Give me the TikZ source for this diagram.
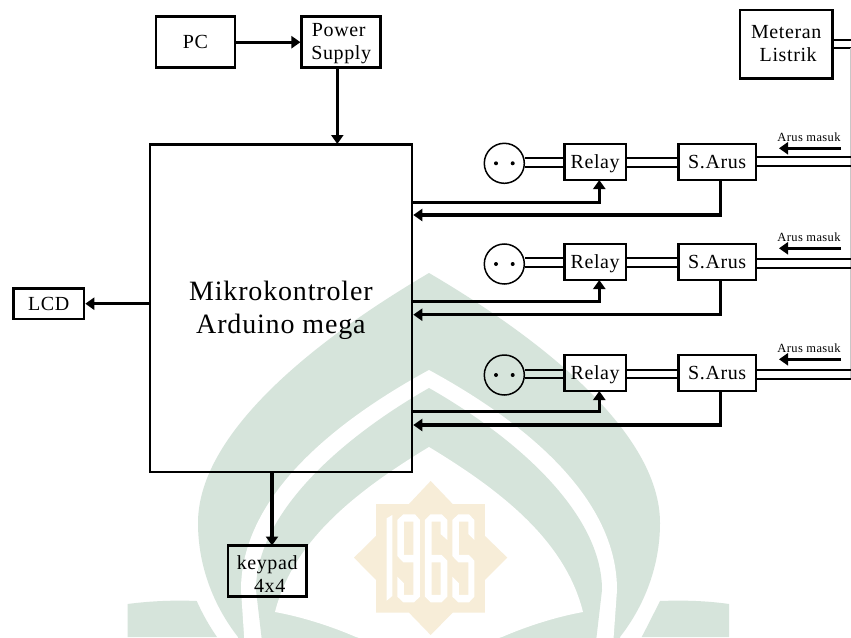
\documentclass[tikz,border=0pt]{standalone}
\usepackage{fontspec}
\setmainfont[LetterSpace=3]{Liberation Serif}
\newfontfamily\bigspaced[LetterSpace=3]{Liberation Serif}
\usetikzlibrary{arrows.meta}
\definecolor{wmgreen}{HTML}{D6E4DB}
\definecolor{wmyellow}{HTML}{F7EDD8}
\tikzset{
  boxnode/.style={draw=black,line width=2.5pt,inner sep=0pt,align=center,font=\fontsize{20}{23}\selectfont},
  sock/.style={draw=black,circle,line width=1.5pt,minimum size=40pt,inner sep=0pt},
  sig/.style={line width=3.2pt,-{Triangle[length=9pt,width=12pt]},shorten >=0pt},
  wire/.style={line width=2.2pt},
  lbl/.style={font=\fontsize{12.5}{13}\selectfont,inner sep=0pt}
}
\begin{document}
\begin{tikzpicture}[x=1pt,y=-1pt]
\useasboundingbox (0,0) rectangle (851,637);
\clip (0,0) rectangle (851,637);
\fill[white] (0,0) rectangle (851,637);
% watermark
\fill[wmgreen] (429,273) .. controls (560,350) and (660,440) .. (660,523)
  .. controls (660,565) and (645,605) .. (620,637) -- (620,650) -- (238,650) -- (238,637)
  .. controls (213,605) and (198,565) .. (198,523)
  .. controls (198,440) and (298,350) .. (429,273) -- cycle;
\fill[white] (429,370) .. controls (530,425) and (617,500) .. (617,590) -- (612.7,650) -- (245,650) -- (241,590)
  .. controls (241,500) and (328,425) .. (429,370) -- cycle;
\fill[wmgreen] (429,388) .. controls (520,440) and (602,515) .. (602,590) -- (595,650) -- (263,650) -- (256,590)
  .. controls (256,515) and (338,440) .. (429,388) -- cycle;
\fill[white] (429,447) .. controls (500,490) and (565,540) .. (583,612)
  .. controls (555,617) and (525,627) .. (502,637) -- (429,660) -- (356,637)
  .. controls (333,627) and (303,617) .. (275,612)
  .. controls (293,540) and (358,490) .. (429,447) -- cycle;
\fill[wmgreen] (127.7,604) .. controls (150,601) and (175,600) .. (196.7,601)
  .. controls (203,615) and (210,627) .. (217,637) -- (127.7,637) -- cycle;
\fill[wmgreen] (660,601) .. controls (685,600) and (708,601) .. (729,604) -- (729,637) -- (641.7,637)
  .. controls (648,625) and (654,613) .. (660,601) -- cycle;
\begin{scope}[shift={(340,470)},x=0.3333pt,y=-0.3333pt]
\fill[wmyellow] (272,33)--(338,102)--(435,102)--(435,198)--(502,263)--(435,330)--(435,428)--(338,428)--(272,495)--(207,428)--(108,428)--(108,330)--(42,263)--(108,198)--(108,102)--(207,102)--cycle;
\fill[white] (140,145)--(157,135)--(157,378)--(140,392)--cycle;
\fill[white,even odd rule] (172,150)--(190,133)--(225,133)--(240,150)--(240,380)--(222,397)--(190,397)--(172,380)--(172,320)--(192,340)--(192,375)--(220,375)--(220,277)--(190,277)--(172,258)--cycle
  (192,155)--(220,155)--(220,255)--(192,255)--cycle;
\fill[white,even odd rule] (255,150)--(272,133)--(305,133)--(322,150)--(322,210)--(302,192)--(302,155)--(275,155)--(275,255)--(305,255)--(322,272)--(322,380)--(305,397)--(272,397)--(255,380)--cycle
  (275,277)--(302,277)--(302,375)--(275,375)--cycle;
\fill[white] (337,150)--(355,133)--(387,133)--(403,150)--(403,210)--(385,192)--(385,155)--(357,155)--(357,255)--(387,255)--(403,272)--(403,380)--(387,397)--(355,397)--(337,380)--(337,320)--(357,340)--(357,375)--(385,375)--(385,277)--(355,277)--(337,258)--cycle;
\end{scope}
% main nodes
\node[boxnode,minimum width=79.3pt,minimum height=51pt] (pc) at (195.4,42.2) {PC};
\node[boxnode,minimum width=79pt,minimum height=51pt] (ps) at (341.2,42.2) {\hspace{-5pt}\rule{0pt}{15pt}Power\\Supply};
\node[boxnode,minimum width=262.3pt,minimum height=327.7pt,font=\bigspaced\fontsize{28}{33.3}\selectfont] (mcu) at (280.9,308.2) {\rule{0pt}{24pt}Mikrokontroler\\Arduino mega};
\node[boxnode,minimum width=70.7pt,minimum height=30.7pt] (lcd) at (48.7,303.7) {LCD};
\node[boxnode,minimum width=78.5pt,minimum height=51pt] (kp) at (267.2,571.2) {\rule{0pt}{19pt}keypad\\\hspace{5pt}4x4};
\node[boxnode,minimum width=92.3pt,minimum height=68.3pt] (meter) at (786.2,44.2) {Meteran\\\hspace{4pt}Listrik\rule[-2pt]{0pt}{2pt}};
\coordinate (edge) at (851,0);
\coordinate (ymA) at (0,40);
\coordinate (ymB) at (0,48.3);
\draw[wire] (meter.east |- ymA) -- (edge |- ymA);
\draw[wire] (meter.east |- ymB) -- (edge |- ymB);
\coordinate (pstop) at (337.3,144);
\coordinate (pssrc) at (337.3,67.7);
\coordinate (kpin) at (272,545.5);
\coordinate (kpsrc) at (272,472);
\draw[sig] (pc.east) -- (ps.west);
\draw[sig] (pssrc) -- (pstop);
\draw[sig] (mcu.west |- lcd.east) -- (lcd.east);
\draw[sig] (kpsrc) -- (kpin);
\coordinate (gt) at (850.5,48);
\coordinate (gb) at (850.5,380);
\draw[black!22,line width=0.8pt] (gt) -- (gb);
% channels: row / box y / socket y / left doubles / right doubles / control / feedback / arrow / label
\foreach \r/\yb/\ys/\da/\db/\ra/\rb/\ct/\fb/\ar/\tx in {
  1/162/163.3/158.3/166.7/156.7/165.7/202.3/215/148.3/137,
  2/262/264/258.3/266.7/259/268.3/301.7/314.7/248.3/237.3,
  3/373/375/370/377.7/370/379/411.7/425/359.3/348.3}{
  \node[sock] (s\r) at (504.3,\ys) {};
  \fill (496,\ys) circle (2pt) (512.7,\ys) circle (2pt);
  \node[boxnode,minimum width=61.7pt,minimum height=36pt,text depth=0pt] (r\r) at (595.2,\yb) {Relay};
  \node[boxnode,minimum width=77.7pt,minimum height=36pt] (a\r) at (717.2,\yb) {S.Arus};
  \coordinate (da\r) at (0,\da);
  \coordinate (db\r) at (0,\db);
  \coordinate (ra\r) at (0,\ra);
  \coordinate (rb\r) at (0,\rb);
  \draw[wire] (s\r.east |- da\r) -- (r\r.west |- da\r);
  \draw[wire] (s\r.east |- db\r) -- (r\r.west |- db\r);
  \draw[wire] (r\r.east |- da\r) -- (a\r.west |- da\r);
  \draw[wire] (r\r.east |- db\r) -- (a\r.west |- db\r);
  \draw[wire] (a\r.east |- ra\r) -- (edge |- ra\r);
  \draw[wire] (a\r.east |- rb\r) -- (edge |- rb\r);
  \coordinate (cy\r) at (0,\ct);
  \coordinate (fy\r) at (0,\fb);
  \coordinate (rin\r) at (599.3,\yb+18);
  \coordinate (asrc\r) at (720.7,\yb+18);
  \draw[sig] (mcu.east |- cy\r) -| (rin\r);
  \draw[sig] (asrc\r) |- (mcu.east |- fy\r);
  \coordinate (ah\r) at (841,\ar);
  \coordinate (at\r) at (779,\ar);
  \draw[sig] (ah\r) -- (at\r);
  \node[lbl] (t\r) at (809,\tx) {Arus masuk};
}
\end{tikzpicture}
\end{document}
